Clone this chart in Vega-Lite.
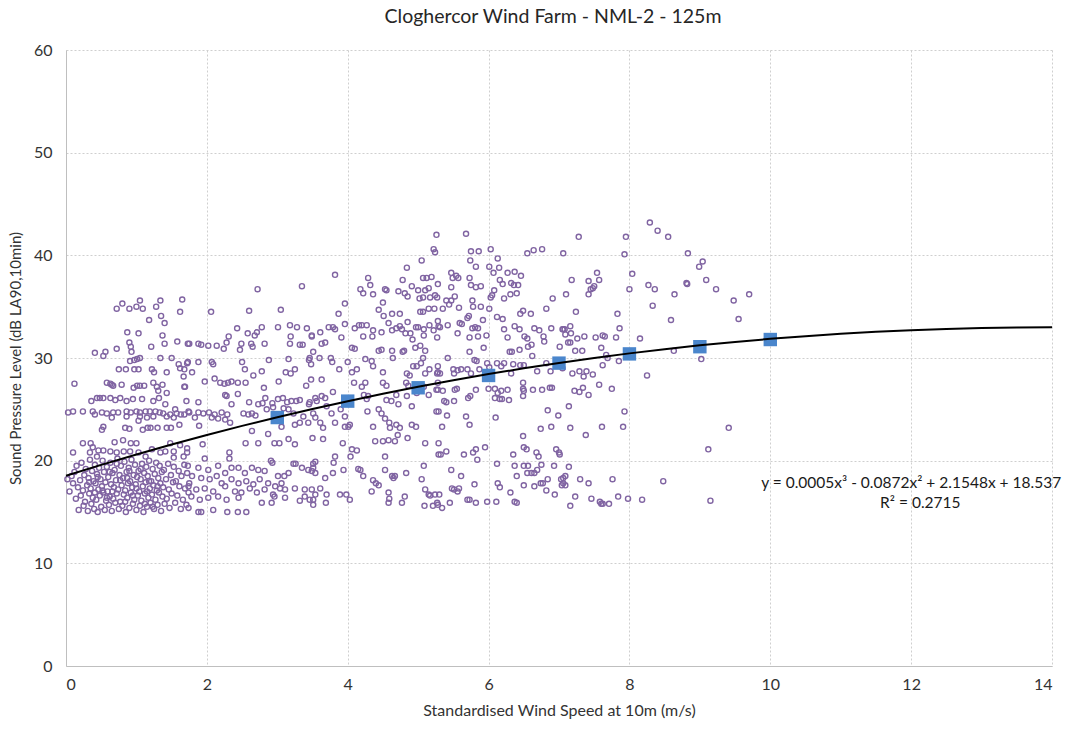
{
"$schema": "https://vega.github.io/schema/vega-lite/v6.json",
"width": 986, "height": 616,
"autosize": {"type": "none"},
"padding": {"left": 66, "top": 50, "right": 21, "bottom": 65},
"background": "white",
"config": {
 "font": "Lato",
 "view": {"stroke": null},
 "axis": {"gridDash": [2, 2], "gridColor": "#cfcfcf", "gridWidth": 1, "domainColor": "#bfbfbf", "domainWidth": 1, "ticks": false, "labelFont": "Lato", "labelFontSize": 16, "labelColor": "#333333", "titleFont": "Lato", "titleFontSize": 15, "titleFontWeight": "normal", "titleColor": "#333333"}
},
"title": {"text": "Cloghercor Wind Farm - NML-2 - 125m", "font": "Lato", "fontSize": 19.5, "fontWeight": "normal", "color": "#262626", "offset": 15, "dx": -6},
"datasets": {
 "pts": [
{"x":0.72,"y":34.8},{"x":0.80,"y":35.3},{"x":0.90,"y":34.8},{"x":1.00,"y":35.0},{"x":1.05,"y":35.6},{"x":1.09,"y":34.8},{"x":1.18,"y":33.7},{"x":1.28,"y":35.0},{"x":1.34,"y":35.6},{"x":1.35,"y":34.1},{"x":1.40,"y":33.4},{"x":1.65,"y":35.7},{"x":1.62,"y":34.5},{"x":0.87,"y":32.5},{"x":1.03,"y":32.4},{"x":1.37,"y":32.2},{"x":0.90,"y":31.5},{"x":0.92,"y":31.1},{"x":1.21,"y":31.1},{"x":1.40,"y":31.4},{"x":1.58,"y":31.6},{"x":1.73,"y":31.4},{"x":0.41,"y":30.5},{"x":0.53,"y":30.2},{"x":0.56,"y":30.6},{"x":0.72,"y":30.9},{"x":0.93,"y":30.6},{"x":0.91,"y":29.7},{"x":0.97,"y":29.8},{"x":1.01,"y":29.9},{"x":1.05,"y":30.0},{"x":0.75,"y":28.9},{"x":0.85,"y":28.9},{"x":0.97,"y":28.9},{"x":1.03,"y":28.9},{"x":1.22,"y":28.9},{"x":1.25,"y":28.6},{"x":1.34,"y":30.0},{"x":1.43,"y":28.6},{"x":1.50,"y":30.0},{"x":1.60,"y":29.4},{"x":1.62,"y":29.0},{"x":1.68,"y":28.9},{"x":1.72,"y":29.5},{"x":1.67,"y":28.2},{"x":0.12,"y":27.5},{"x":0.58,"y":27.6},{"x":0.63,"y":27.5},{"x":0.65,"y":27.4},{"x":0.67,"y":27.3},{"x":0.79,"y":27.4},{"x":0.96,"y":27.1},{"x":1.01,"y":27.3},{"x":1.05,"y":27.3},{"x":1.11,"y":27.3},{"x":1.24,"y":27.6},{"x":1.29,"y":27.2},{"x":1.31,"y":26.8},{"x":1.37,"y":27.4},{"x":1.43,"y":26.6},{"x":1.68,"y":27.2},{"x":1.71,"y":25.8},{"x":0.36,"y":25.8},{"x":0.44,"y":26.1},{"x":0.48,"y":26.1},{"x":0.53,"y":26.1},{"x":0.63,"y":26.1},{"x":0.70,"y":25.9},{"x":0.77,"y":26.1},{"x":0.86,"y":25.8},{"x":0.95,"y":26.0},{"x":1.08,"y":26.0},{"x":1.24,"y":25.8},{"x":1.32,"y":26.1},{"x":1.41,"y":25.5},{"x":1.55,"y":25.0},{"x":1.68,"y":24.5},{"x":1.74,"y":24.8},
{"x":0.03,"y":24.7},{"x":0.10,"y":24.8},{"x":0.24,"y":24.8},{"x":0.38,"y":24.8},{"x":0.41,"y":24.5},{"x":0.51,"y":24.7},{"x":0.58,"y":24.6},{"x":0.67,"y":24.7},{"x":0.74,"y":24.7},{"x":0.86,"y":24.8},{"x":0.92,"y":24.7},{"x":1.00,"y":24.8},{"x":1.05,"y":24.7},{"x":1.13,"y":24.8},{"x":1.19,"y":24.8},{"x":1.27,"y":24.8},{"x":1.33,"y":24.7},{"x":1.38,"y":24.6},{"x":1.48,"y":24.5},{"x":1.57,"y":24.6},{"x":1.63,"y":24.5},{"x":0.65,"y":24.2},{"x":0.86,"y":24.3},{"x":1.05,"y":24.3},{"x":1.15,"y":24.2},{"x":1.24,"y":24.3},{"x":1.43,"y":24.3},{"x":1.53,"y":24.2},{"x":1.03,"y":23.9},{"x":0.53,"y":23.3},{"x":0.51,"y":23.0},{"x":0.84,"y":23.2},{"x":0.90,"y":23.1},{"x":1.09,"y":23.0},{"x":1.16,"y":23.2},{"x":1.20,"y":23.2},{"x":1.30,"y":23.2},{"x":1.43,"y":23.2},{"x":1.49,"y":23.2},{"x":1.61,"y":23.5},
{"x":0.10,"y":20.8},{"x":0.24,"y":21.7},{"x":0.35,"y":21.7},{"x":0.38,"y":21.3},{"x":0.69,"y":21.8},{"x":0.81,"y":22.0},{"x":0.92,"y":21.7},{"x":1.00,"y":21.7},{"x":0.46,"y":21.0},{"x":0.53,"y":21.0},{"x":0.63,"y":20.9},{"x":0.72,"y":20.8},{"x":0.82,"y":20.9},{"x":0.91,"y":20.9},{"x":1.03,"y":20.8},{"x":1.13,"y":20.4},{"x":1.22,"y":21.1},{"x":1.34,"y":20.8},{"x":1.41,"y":20.9},{"x":1.48,"y":21.7},{"x":1.53,"y":20.9},{"x":1.62,"y":21.5},{"x":1.72,"y":21.2},{"x":1.67,"y":20.4},{"x":1.53,"y":20.3},{"x":0.44,"y":20.4},{"x":0.34,"y":20.8},
{"x":0.02,"y":18.2},{"x":0.05,"y":17.0},{"x":0.08,"y":18.5},{"x":0.1,"y":17.8},{"x":0.12,"y":18.9},{"x":0.14,"y":16.3},{"x":0.15,"y":19.5},{"x":0.17,"y":17.4},{"x":0.18,"y":15.2},{"x":0.2,"y":18.1},{"x":0.21,"y":16.6},{"x":0.22,"y":19.8},{"x":0.24,"y":17.1},{"x":0.25,"y":15.6},{"x":0.26,"y":18.6},{"x":0.27,"y":16.0},{"x":0.28,"y":19.2},{"x":0.3,"y":17.6},{"x":0.31,"y":15.1},{"x":0.32,"y":18.3},{"x":0.33,"y":16.8},{"x":0.34,"y":20.1},{"x":0.35,"y":17.3},{"x":0.36,"y":15.8},{"x":0.37,"y":19.0},{"x":0.38,"y":16.4},{"x":0.39,"y":18.0},{"x":0.4,"y":15.3},{"x":0.41,"y":19.6},{"x":0.42,"y":17.8},{"x":0.43,"y":16.2},{"x":0.44,"y":18.7},{"x":0.45,"y":15.0},{"x":0.46,"y":17.2},{"x":0.47,"y":19.3},{"x":0.48,"y":16.6},{"x":0.49,"y":18.2},{"x":0.5,"y":15.5},{"x":0.51,"y":17.5},{"x":0.52,"y":20.0},{"x":0.53,"y":16.9},{"x":0.54,"y":18.9},{"x":0.55,"y":15.2},{"x":0.56,"y":17.9},{"x":0.57,"y":16.1},{"x":0.58,"y":19.4},{"x":0.59,"y":17.0},{"x":0.6,"y":18.4},{"x":0.61,"y":15.7},{"x":0.62,"y":16.5},{"x":0.63,"y":19.8},{"x":0.64,"y":17.7},{"x":0.65,"y":15.1},{"x":0.66,"y":18.8},{"x":0.67,"y":16.3},{"x":0.68,"y":17.4},{"x":0.69,"y":19.1},{"x":0.7,"y":15.9},{"x":0.71,"y":18.1},{"x":0.72,"y":16.8},{"x":0.73,"y":20.2},{"x":0.74,"y":17.2},{"x":0.75,"y":15.3},{"x":0.76,"y":18.6},{"x":0.77,"y":16.0},{"x":0.78,"y":19.5},{"x":0.79,"y":17.6},{"x":0.8,"y":15.6},{"x":0.81,"y":18.3},{"x":0.82,"y":16.7},{"x":0.83,"y":19.9},{"x":0.84,"y":17.1},{"x":0.85,"y":15.0},{"x":0.86,"y":18.9},{"x":0.87,"y":16.4},{"x":0.88,"y":17.8},{"x":0.89,"y":19.3},{"x":0.9,"y":15.4},{"x":0.91,"y":18.0},{"x":0.92,"y":16.9},{"x":0.93,"y":20.1},{"x":0.94,"y":17.4},{"x":0.95,"y":15.8},{"x":0.96,"y":18.6},{"x":0.97,"y":16.2},{"x":0.98,"y":19.6},{"x":0.99,"y":17.7},{"x":1.0,"y":15.2},{"x":1.01,"y":18.4},{"x":1.02,"y":16.6},{"x":1.03,"y":19.0},{"x":1.04,"y":17.0},{"x":1.05,"y":15.6},{"x":1.06,"y":18.2},{"x":1.07,"y":16.1},{"x":1.08,"y":19.7},{"x":1.09,"y":17.5},{"x":1.1,"y":15.0},{"x":1.11,"y":18.8},{"x":1.12,"y":16.8},{"x":1.13,"y":17.9},{"x":1.14,"y":19.4},{"x":1.15,"y":15.5},{"x":1.16,"y":18.5},{"x":1.17,"y":16.4},{"x":1.18,"y":20.0},{"x":1.19,"y":17.3},{"x":1.2,"y":15.9},{"x":1.21,"y":18.0},{"x":1.22,"y":16.7},{"x":1.23,"y":19.2},{"x":1.24,"y":17.6},{"x":1.25,"y":15.3},{"x":1.26,"y":18.7},{"x":1.27,"y":16.2},{"x":1.28,"y":19.8},{"x":1.29,"y":17.1},{"x":1.3,"y":15.7},{"x":1.31,"y":18.3},{"x":1.32,"y":16.9},{"x":1.33,"y":19.5},{"x":1.34,"y":17.8},{"x":1.35,"y":15.1},{"x":1.36,"y":18.9},{"x":1.37,"y":16.5},{"x":1.38,"y":17.4},{"x":1.39,"y":19.1},{"x":1.4,"y":15.8},{"x":1.42,"y":18.2},{"x":1.43,"y":16.3},{"x":1.45,"y":19.7},{"x":1.46,"y":17.2},{"x":1.47,"y":15.4},{"x":1.49,"y":18.6},{"x":1.5,"y":16.8},{"x":1.52,"y":17.9},{"x":1.53,"y":19.4},{"x":1.55,"y":15.9},{"x":1.56,"y":18.0},{"x":1.58,"y":16.6},{"x":1.6,"y":19.0},{"x":1.61,"y":17.5},{"x":1.63,"y":15.3},{"x":1.64,"y":18.5},{"x":1.66,"y":16.2},{"x":1.68,"y":19.6},{"x":1.69,"y":17.3},{"x":1.71,"y":15.7},{"x":1.72,"y":18.8},{"x":1.74,"y":16.9},{"x":1.75,"y":17.8},
{"x":0.33,"y":17.9},{"x":0.45,"y":18.4},{"x":0.52,"y":17.1},{"x":0.58,"y":16.4},{"x":0.66,"y":17.0},{"x":0.72,"y":19.7},{"x":0.77,"y":18.1},{"x":0.84,"y":16.0},{"x":0.9,"y":19.0},{"x":0.95,"y":16.6},{"x":1.0,"y":17.3},{"x":1.06,"y":19.2},{"x":1.12,"y":15.8},{"x":1.18,"y":18.0},{"x":1.23,"y":15.5},{"x":1.3,"y":17.5},{"x":0.41,"y":16.9},{"x":0.62,"y":18.9},{"x":0.87,"y":18.3},{"x":1.15,"y":17.0},
{"x":2.72,"y":36.7},{"x":3.35,"y":37.0},{"x":2.06,"y":34.5},{"x":2.60,"y":34.6},{"x":3.05,"y":34.7},{"x":2.43,"y":32.9},{"x":2.58,"y":32.4},{"x":2.68,"y":32.2},{"x":2.71,"y":32.5},{"x":2.78,"y":33.0},{"x":3.01,"y":33.0},{"x":3.18,"y":33.2},{"x":3.28,"y":33.0},{"x":3.42,"y":32.9},{"x":3.19,"y":32.1},{"x":2.31,"y":32.1},{"x":2.28,"y":31.5},{"x":1.75,"y":31.4},{"x":1.88,"y":31.4},{"x":1.92,"y":31.3},{"x":2.02,"y":31.2},{"x":2.14,"y":31.2},{"x":2.24,"y":30.9},{"x":2.49,"y":31.4},{"x":2.47,"y":30.8},{"x":2.63,"y":31.4},{"x":2.65,"y":31.1},{"x":2.82,"y":31.4},{"x":3.18,"y":31.4},{"x":3.32,"y":31.3},{"x":3.36,"y":31.3},{"x":3.51,"y":30.6},{"x":3.49,"y":32.2},{"x":1.73,"y":29.6},{"x":1.88,"y":29.6},{"x":2.07,"y":29.6},{"x":2.09,"y":29.4},{"x":2.50,"y":29.6},{"x":2.54,"y":28.9},{"x":2.66,"y":28.3},{"x":2.78,"y":28.7},{"x":2.88,"y":29.8},{"x":3.12,"y":28.6},{"x":3.16,"y":29.9},{"x":3.19,"y":28.5},{"x":3.25,"y":28.9},{"x":3.45,"y":29.8},{"x":3.48,"y":29.4},{"x":1.79,"y":28.6},{"x":1.97,"y":27.7},{"x":2.11,"y":28.0},{"x":2.19,"y":27.6},{"x":2.25,"y":27.5},{"x":2.30,"y":27.6},{"x":2.35,"y":27.7},{"x":2.44,"y":27.6},{"x":2.55,"y":27.6},{"x":2.81,"y":27.1},{"x":3.02,"y":27.7},{"x":3.41,"y":27.3},{"x":3.48,"y":27.9},{"x":1.69,"y":27.2},{"x":2.26,"y":26.4},{"x":2.44,"y":26.5},{"x":2.28,"y":26.3},{"x":1.88,"y":25.7},{"x":2.35,"y":25.5},{"x":2.60,"y":25.7},{"x":2.73,"y":25.5},{"x":2.79,"y":25.6},{"x":2.83,"y":26.1},{"x":2.93,"y":25.6},{"x":3.01,"y":26.0},{"x":3.08,"y":26.1},{"x":3.14,"y":25.7},{"x":3.20,"y":25.8},{"x":3.27,"y":25.8},{"x":3.32,"y":25.9},{"x":3.45,"y":25.5},{"x":1.75,"y":24.7},{"x":1.88,"y":24.7},{"x":1.95,"y":24.6},{"x":2.03,"y":24.7},{"x":2.11,"y":24.5},{"x":2.21,"y":24.7},{"x":2.29,"y":24.5},{"x":1.83,"y":24.2},{"x":1.89,"y":23.4},{"x":2.07,"y":24.2},{"x":2.16,"y":24.1},{"x":2.26,"y":24.0},{"x":2.33,"y":23.7},{"x":2.52,"y":24.6},{"x":2.59,"y":24.5},{"x":2.64,"y":24.6},{"x":2.69,"y":24.4},{"x":2.85,"y":25.0},{"x":2.94,"y":25.2},{"x":3.09,"y":25.1},{"x":3.16,"y":25.0},{"x":3.23,"y":24.6},{"x":3.37,"y":24.3},{"x":3.25,"y":23.5},{"x":3.32,"y":23.7},{"x":3.44,"y":23.7},{"x":3.06,"y":23.3},{"x":2.64,"y":22.9},{"x":2.55,"y":21.7},{"x":2.73,"y":21.7},{"x":2.87,"y":22.6},{"x":2.96,"y":21.7},{"x":3.03,"y":21.7},{"x":3.16,"y":22.1},{"x":3.25,"y":21.6},{"x":3.50,"y":22.2},{"x":1.94,"y":21.6},{"x":1.72,"y":20.8},{"x":2.32,"y":20.8},{"x":2.32,"y":20.2},{"x":2.91,"y":20.0},{"x":3.23,"y":19.7},{"x":3.26,"y":19.7},{"x":1.97,"y":20.2},
{"x":1.73,"y":19.5},{"x":1.88,"y":19.3},{"x":2.02,"y":19.1},{"x":2.16,"y":19.5},{"x":2.26,"y":18.8},{"x":2.35,"y":19.3},{"x":2.45,"y":19.3},{"x":2.54,"y":18.8},{"x":2.64,"y":19.3},{"x":2.73,"y":19.1},{"x":2.82,"y":19.0},{"x":2.93,"y":19.8},{"x":3.01,"y":18.5},{"x":3.10,"y":18.5},{"x":3.16,"y":18.8},{"x":3.35,"y":19.3},{"x":3.44,"y":19.1},{"x":3.51,"y":19.3},{"x":1.79,"y":18.5},{"x":1.92,"y":18.3},{"x":2.04,"y":18.2},{"x":2.14,"y":18.5},{"x":2.21,"y":17.8},{"x":2.35,"y":18.2},{"x":2.45,"y":17.8},{"x":2.56,"y":18.0},{"x":2.66,"y":17.7},{"x":2.75,"y":18.2},{"x":2.87,"y":17.8},{"x":2.97,"y":17.5},{"x":3.06,"y":17.8},{"x":3.11,"y":17.2},{"x":3.25,"y":17.3},{"x":3.39,"y":17.2},{"x":3.49,"y":17.2},{"x":1.74,"y":17.5},{"x":1.85,"y":17.2},{"x":1.97,"y":17.3},{"x":2.09,"y":17.0},{"x":2.26,"y":17.5},{"x":2.40,"y":17.0},{"x":2.49,"y":16.9},{"x":2.61,"y":17.3},{"x":2.71,"y":16.9},{"x":2.82,"y":17.2},{"x":2.94,"y":16.7},{"x":3.04,"y":17.3},{"x":3.11,"y":16.4},{"x":1.78,"y":16.5},{"x":1.90,"y":16.2},{"x":2.02,"y":16.4},{"x":2.16,"y":16.5},{"x":2.28,"y":16.2},{"x":2.45,"y":16.4},{"x":2.78,"y":15.9},{"x":2.92,"y":15.9},{"x":2.96,"y":16.5},{"x":3.32,"y":16.1},{"x":1.74,"y":15.4},{"x":1.88,"y":15.0},{"x":1.92,"y":15.0},{"x":2.09,"y":15.2},{"x":2.29,"y":15.0},{"x":2.44,"y":15.0},{"x":2.56,"y":15.0},{"x":3.39,"y":16.5},{"x":3.51,"y":16.2},
{"x":5.26,"y":42.0},{"x":5.22,"y":40.6},{"x":5.24,"y":40.3},{"x":3.82,"y":38.1},{"x":5.05,"y":39.5},{"x":4.84,"y":38.8},{"x":4.29,"y":37.8},{"x":4.32,"y":37.1},{"x":4.18,"y":36.7},{"x":4.22,"y":36.3},{"x":4.36,"y":36.2},{"x":4.53,"y":36.7},{"x":4.55,"y":36.6},{"x":4.50,"y":35.4},{"x":4.44,"y":34.7},{"x":4.51,"y":34.1},{"x":4.63,"y":34.3},{"x":4.74,"y":34.3},{"x":4.58,"y":33.4},{"x":4.78,"y":37.6},{"x":4.72,"y":36.5},{"x":4.81,"y":36.3},{"x":4.85,"y":36.0},{"x":4.91,"y":37.0},{"x":5.00,"y":36.6},{"x":5.02,"y":35.8},{"x":5.07,"y":35.9},{"x":5.10,"y":36.6},{"x":5.15,"y":36.8},{"x":5.07,"y":37.8},{"x":5.12,"y":37.8},{"x":5.19,"y":37.9},{"x":5.17,"y":35.9},{"x":5.24,"y":36.1},{"x":5.28,"y":37.2},{"x":5.03,"y":34.5},{"x":5.07,"y":34.5},{"x":5.15,"y":34.8},{"x":5.23,"y":34.8},{"x":3.96,"y":35.3},{"x":3.87,"y":34.3},{"x":3.96,"y":33.3},{"x":3.63,"y":31.4},{"x":3.68,"y":31.5},{"x":3.79,"y":33.0},{"x":3.82,"y":32.8},{"x":3.73,"y":33.0},{"x":3.91,"y":32.0},{"x":3.49,"y":32.1},{"x":3.61,"y":32.5},{"x":4.10,"y":32.9},{"x":4.16,"y":33.2},{"x":4.20,"y":33.2},{"x":4.27,"y":33.2},{"x":4.22,"y":32.1},{"x":4.36,"y":32.7},{"x":4.35,"y":32.1},{"x":4.48,"y":32.5},{"x":4.63,"y":32.7},{"x":4.69,"y":32.9},{"x":4.74,"y":33.1},{"x":4.77,"y":32.8},{"x":4.85,"y":33.5},{"x":4.82,"y":32.4},{"x":4.89,"y":32.4},{"x":4.97,"y":33.0},{"x":5.00,"y":33.0},{"x":5.08,"y":32.8},{"x":5.16,"y":33.2},{"x":5.22,"y":32.7},{"x":5.29,"y":33.1},{"x":5.27,"y":32.0},{"x":5.08,"y":32.2},{"x":4.92,"y":31.8},{"x":4.06,"y":31.0},{"x":4.10,"y":30.9},{"x":4.44,"y":30.7},{"x":4.48,"y":30.8},{"x":4.63,"y":30.7},{"x":4.78,"y":30.6},{"x":4.80,"y":30.7},{"x":4.96,"y":31.0},{"x":5.03,"y":31.2},{"x":5.10,"y":30.7},{"x":3.46,"y":30.0},{"x":3.60,"y":30.0},{"x":3.76,"y":30.0},{"x":3.78,"y":29.6},{"x":3.88,"y":28.9},{"x":4.00,"y":29.6},{"x":4.06,"y":28.6},{"x":4.13,"y":28.9},{"x":4.25,"y":29.9},{"x":4.34,"y":29.7},{"x":4.36,"y":29.2},{"x":4.50,"y":28.6},{"x":4.64,"y":30.0},{"x":4.84,"y":28.5},{"x":4.88,"y":28.3},{"x":4.93,"y":29.2},{"x":4.98,"y":29.2},{"x":5.04,"y":29.5},{"x":5.07,"y":30.0},{"x":5.10,"y":28.5},{"x":5.16,"y":28.9},{"x":5.27,"y":28.5},{"x":5.28,"y":29.2},{"x":3.63,"y":27.9},{"x":4.09,"y":27.6},{"x":4.20,"y":27.2},{"x":4.25,"y":27.6},{"x":4.50,"y":27.6},{"x":4.55,"y":27.3},{"x":4.69,"y":26.4},{"x":4.83,"y":27.6},{"x":4.86,"y":27.3},{"x":4.98,"y":26.6},{"x":5.08,"y":27.2},{"x":5.15,"y":26.4},{"x":5.28,"y":26.9},{"x":3.46,"y":25.7},{"x":3.54,"y":26.1},{"x":3.56,"y":25.8},{"x":3.63,"y":26.3},{"x":3.68,"y":26.1},{"x":3.79,"y":26.7},{"x":3.70,"y":25.3},{"x":3.51,"y":24.6},{"x":3.54,"y":24.2},{"x":3.61,"y":23.7},{"x":3.65,"y":23.2},{"x":3.77,"y":24.6},{"x":3.82,"y":23.7},{"x":3.90,"y":25.0},{"x":3.96,"y":24.3},{"x":4.03,"y":23.5},{"x":4.01,"y":23.3},{"x":3.96,"y":23.3},{"x":4.23,"y":26.4},{"x":4.29,"y":26.3},{"x":4.27,"y":26.0},{"x":4.55,"y":25.9},{"x":4.62,"y":25.8},{"x":4.44,"y":25.0},{"x":4.48,"y":24.6},{"x":4.59,"y":23.7},{"x":4.60,"y":23.2},{"x":4.69,"y":23.5},{"x":4.74,"y":23.2},{"x":4.72,"y":25.5},{"x":4.84,"y":26.3},{"x":4.91,"y":25.3},{"x":4.91,"y":23.5},{"x":4.97,"y":23.3},{"x":5.29,"y":24.8},{"x":4.28,"y":24.8},{"x":4.36,"y":23.3},{"x":4.53,"y":24.1},{"x":3.65,"y":22.1},{"x":3.93,"y":21.7},{"x":4.06,"y":21.1},{"x":4.13,"y":21.0},{"x":4.39,"y":21.9},{"x":4.50,"y":21.9},{"x":4.58,"y":22.0},{"x":4.67,"y":21.9},{"x":4.71,"y":22.5},{"x":4.85,"y":22.2},{"x":5.10,"y":21.7},{"x":5.29,"y":20.6},{"x":3.54,"y":19.9},{"x":3.51,"y":19.7},{"x":3.49,"y":19.0},{"x":3.82,"y":20.4},{"x":3.80,"y":19.8},{"x":3.79,"y":18.8},{"x":3.94,"y":19.1},{"x":4.15,"y":19.2},{"x":4.18,"y":19.1},{"x":4.04,"y":20.4},{"x":4.22,"y":18.5},{"x":4.36,"y":18.1},{"x":4.40,"y":17.8},{"x":4.44,"y":17.6},{"x":4.53,"y":20.4},{"x":4.53,"y":19.1},{"x":4.63,"y":18.5},{"x":4.65,"y":18.3},{"x":4.67,"y":18.5},{"x":4.83,"y":18.8},{"x":5.08,"y":19.5},{"x":5.05,"y":18.2},{"x":3.54,"y":18.8},{"x":3.61,"y":17.3},{"x":3.70,"y":16.7},{"x":3.69,"y":15.9},{"x":3.68,"y":18.3},{"x":3.89,"y":16.7},{"x":3.98,"y":16.7},{"x":4.03,"y":16.2},{"x":4.34,"y":17.0},{"x":4.58,"y":16.9},{"x":4.59,"y":16.3},{"x":4.58,"y":15.9},{"x":4.77,"y":15.9},{"x":4.81,"y":16.5},{"x":5.10,"y":17.2},{"x":5.15,"y":16.7},{"x":5.17,"y":16.6},{"x":5.09,"y":15.6},{"x":5.24,"y":16.7},{"x":5.21,"y":15.6},{"x":5.28,"y":15.7},{"x":3.54,"y":16.7},{"x":3.46,"y":16.2},{"x":3.51,"y":15.7},
{"x":5.68,"y":42.1},{"x":5.75,"y":40.4},{"x":5.86,"y":40.4},{"x":6.03,"y":40.6},{"x":6.55,"y":40.2},{"x":6.64,"y":40.5},{"x":6.76,"y":40.6},{"x":7.06,"y":40.2},{"x":5.74,"y":39.5},{"x":5.82,"y":38.9},{"x":6.01,"y":38.9},{"x":6.07,"y":38.3},{"x":6.13,"y":39.7},{"x":6.15,"y":38.8},{"x":6.27,"y":38.3},{"x":6.37,"y":38.4},{"x":6.46,"y":38.0},{"x":5.47,"y":38.3},{"x":5.49,"y":37.8},{"x":5.54,"y":38.0},{"x":5.57,"y":37.8},{"x":5.73,"y":37.8},{"x":6.16,"y":37.6},{"x":5.75,"y":37.1},{"x":5.82,"y":36.9},{"x":5.89,"y":37.0},{"x":5.47,"y":36.9},{"x":5.27,"y":35.9},{"x":5.52,"y":36.0},{"x":5.47,"y":35.6},{"x":5.40,"y":35.6},{"x":5.35,"y":34.8},{"x":5.44,"y":35.2},{"x":5.58,"y":34.9},{"x":5.77,"y":35.6},{"x":5.78,"y":35.0},{"x":5.89,"y":35.0},{"x":6.03,"y":35.9},{"x":6.05,"y":36.1},{"x":6.08,"y":36.6},{"x":6.20,"y":37.2},{"x":6.32,"y":37.3},{"x":6.36,"y":37.1},{"x":6.42,"y":37.1},{"x":6.22,"y":35.8},{"x":6.31,"y":36.2},{"x":6.40,"y":36.3},{"x":6.49,"y":34.6},{"x":6.45,"y":34.3},{"x":6.60,"y":34.3},{"x":6.82,"y":34.8},{"x":6.91,"y":35.8},{"x":6.01,"y":34.8},{"x":6.12,"y":34.0},{"x":6.20,"y":33.8},{"x":5.92,"y":33.7},{"x":5.85,"y":32.9},{"x":5.72,"y":34.1},{"x":5.70,"y":33.9},{"x":5.59,"y":33.4},{"x":5.62,"y":33.3},{"x":5.28,"y":33.6},{"x":5.31,"y":33.0},{"x":5.42,"y":33.2},{"x":5.77,"y":32.9},{"x":5.81,"y":33.0},{"x":5.56,"y":32.4},{"x":5.73,"y":32.0},{"x":5.85,"y":32.1},{"x":5.97,"y":32.2},{"x":6.22,"y":32.8},{"x":6.27,"y":32.0},{"x":6.37,"y":33.1},{"x":6.44,"y":32.8},{"x":6.51,"y":32.1},{"x":6.55,"y":31.9},{"x":6.65,"y":32.9},{"x":6.72,"y":32.7},{"x":6.78,"y":32.1},{"x":6.89,"y":32.9},{"x":7.06,"y":32.8},{"x":6.79,"y":31.6},{"x":6.61,"y":31.3},{"x":6.56,"y":31.1},{"x":6.62,"y":30.2},{"x":6.44,"y":30.8},{"x":6.30,"y":30.6},{"x":6.33,"y":30.6},{"x":7.01,"y":31.1},{"x":5.93,"y":31.0},{"x":5.73,"y":30.6},{"x":5.80,"y":29.8},{"x":5.83,"y":29.7},{"x":5.42,"y":30.0},{"x":5.28,"y":28.6},{"x":5.31,"y":28.5},{"x":5.50,"y":28.9},{"x":5.51,"y":28.5},{"x":5.56,"y":28.8},{"x":5.61,"y":28.9},{"x":5.70,"y":28.9},{"x":5.75,"y":28.5},{"x":5.87,"y":28.9},{"x":5.98,"y":29.5},{"x":6.01,"y":29.1},{"x":6.12,"y":29.5},{"x":6.18,"y":29.2},{"x":6.22,"y":29.5},{"x":6.32,"y":28.5},{"x":6.35,"y":29.4},{"x":6.45,"y":29.3},{"x":6.50,"y":29.3},{"x":6.69,"y":28.7},{"x":6.82,"y":29.5},{"x":6.88,"y":28.7},{"x":5.26,"y":26.9},{"x":5.35,"y":26.8},{"x":5.52,"y":26.9},{"x":5.55,"y":27.0},{"x":5.28,"y":27.6},{"x":5.82,"y":26.9},{"x":5.71,"y":26.1},{"x":5.74,"y":26.3},{"x":6.00,"y":27.0},{"x":6.09,"y":27.0},{"x":6.13,"y":26.6},{"x":6.18,"y":26.8},{"x":6.27,"y":26.9},{"x":6.09,"y":26.1},{"x":6.16,"y":26.0},{"x":6.19,"y":26.0},{"x":6.29,"y":25.9},{"x":6.49,"y":27.6},{"x":6.49,"y":27.0},{"x":6.50,"y":26.8},{"x":6.49,"y":26.3},{"x":6.63,"y":26.9},{"x":6.76,"y":26.9},{"x":6.87,"y":27.1},{"x":6.90,"y":27.1},{"x":5.37,"y":25.8},{"x":5.40,"y":25.7},{"x":5.51,"y":25.8},{"x":5.26,"y":24.8},{"x":5.41,"y":24.4},{"x":5.68,"y":24.3},{"x":6.10,"y":24.2},{"x":6.84,"y":24.9},{"x":6.99,"y":24.4},{"x":5.34,"y":23.3},{"x":5.73,"y":23.5},{"x":6.74,"y":23.1},{"x":6.89,"y":23.3},{"x":5.29,"y":21.7},{"x":5.32,"y":20.6},{"x":5.40,"y":20.9},{"x":5.65,"y":20.6},{"x":5.78,"y":20.8},{"x":5.82,"y":21.1},{"x":5.84,"y":20.1},{"x":5.95,"y":21.3},{"x":6.12,"y":19.7},{"x":6.35,"y":20.6},{"x":6.37,"y":19.5},{"x":6.40,"y":18.5},{"x":6.49,"y":22.4},{"x":6.50,"y":21.3},{"x":6.54,"y":21.1},{"x":6.50,"y":19.5},{"x":6.56,"y":19.5},{"x":6.61,"y":18.8},{"x":6.68,"y":20.8},{"x":6.69,"y":19.1},{"x":6.75,"y":19.6},{"x":6.71,"y":20.4},{"x":6.74,"y":17.8},{"x":6.77,"y":17.8},{"x":6.84,"y":18.2},{"x":6.93,"y":19.5},{"x":6.96,"y":21.1},{"x":7.01,"y":20.6},{"x":7.06,"y":18.3},{"x":7.06,"y":17.8},{"x":5.47,"y":19.1},{"x":5.61,"y":18.5},{"x":5.48,"y":17.3},{"x":5.51,"y":17.2},{"x":5.56,"y":17.0},{"x":5.58,"y":17.3},{"x":5.70,"y":16.2},{"x":5.73,"y":16.2},{"x":5.80,"y":17.7},{"x":5.30,"y":16.7},{"x":5.27,"y":15.9},{"x":5.45,"y":15.9},{"x":5.34,"y":15.4},{"x":5.82,"y":15.9},{"x":5.98,"y":16.0},{"x":6.11,"y":16.0},{"x":6.13,"y":17.8},{"x":6.16,"y":17.4},{"x":6.31,"y":16.9},{"x":6.37,"y":16.0},{"x":6.40,"y":15.9},{"x":6.50,"y":17.6},{"x":6.55,"y":18.8},{"x":6.65,"y":17.5},{"x":6.65,"y":18.8},{"x":6.82,"y":17.1},{"x":6.94,"y":16.7},
{"x":8.29,"y":43.2},{"x":8.40,"y":42.4},{"x":8.55,"y":41.8},{"x":7.28,"y":41.8},{"x":7.95,"y":41.8},{"x":7.93,"y":40.1},{"x":8.83,"y":40.2},{"x":7.54,"y":38.3},{"x":8.04,"y":38.2},{"x":7.18,"y":37.6},{"x":7.42,"y":37.5},{"x":7.57,"y":37.6},{"x":7.45,"y":36.7},{"x":7.48,"y":36.8},{"x":7.50,"y":37.0},{"x":7.42,"y":36.2},{"x":7.10,"y":36.2},{"x":8.00,"y":36.7},{"x":8.27,"y":37.1},{"x":8.36,"y":36.7},{"x":8.64,"y":36.2},{"x":8.33,"y":35.1},{"x":8.81,"y":37.3},{"x":7.24,"y":34.5},{"x":7.83,"y":34.3},{"x":8.59,"y":33.7},{"x":7.86,"y":32.9},{"x":7.05,"y":32.8},{"x":7.08,"y":32.8},{"x":7.16,"y":33.1},{"x":7.09,"y":32.3},{"x":7.17,"y":32.4},{"x":7.13,"y":31.5},{"x":7.16,"y":31.5},{"x":7.26,"y":31.9},{"x":7.36,"y":32.1},{"x":7.52,"y":32.0},{"x":7.62,"y":32.2},{"x":7.65,"y":32.1},{"x":7.81,"y":32.0},{"x":8.15,"y":31.9},{"x":7.60,"y":31.0},{"x":7.23,"y":30.7},{"x":7.33,"y":30.7},{"x":7.67,"y":30.3},{"x":7.69,"y":30.0},{"x":8.63,"y":30.7},{"x":7.85,"y":29.7},{"x":7.62,"y":29.3},{"x":7.19,"y":28.5},{"x":7.29,"y":28.7},{"x":7.35,"y":28.2},{"x":7.39,"y":28.7},{"x":7.48,"y":28.4},{"x":8.25,"y":28.3},{"x":7.57,"y":27.4},{"x":7.22,"y":26.8},{"x":7.29,"y":26.7},{"x":7.34,"y":27.1},{"x":7.42,"y":26.4},{"x":7.75,"y":27.0},{"x":7.05,"y":29.0},{"x":7.14,"y":25.3},{"x":7.93,"y":24.8},{"x":7.16,"y":23.2},{"x":7.61,"y":23.3},{"x":7.91,"y":23.3},{"x":7.38,"y":22.5},{"x":7.00,"y":20.8},{"x":7.14,"y":19.4},{"x":7.09,"y":18.5},{"x":7.03,"y":18.2},{"x":7.04,"y":17.6},{"x":7.09,"y":17.6},{"x":7.30,"y":18.2},{"x":7.42,"y":17.8},{"x":7.76,"y":18.2},{"x":8.48,"y":18.0},{"x":7.23,"y":16.5},{"x":7.16,"y":15.6},{"x":7.46,"y":16.3},{"x":7.58,"y":16.0},{"x":7.60,"y":15.8},{"x":7.62,"y":15.8},{"x":7.71,"y":15.8},{"x":7.84,"y":16.5},{"x":7.98,"y":16.3},{"x":8.18,"y":16.2},
{"x":9.04,"y":39.4},{"x":8.99,"y":38.9},{"x":9.09,"y":37.6},{"x":8.82,"y":37.2},{"x":9.23,"y":36.7},{"x":9.48,"y":35.6},{"x":9.70,"y":36.2},{"x":9.55,"y":33.8},{"x":9.02,"y":29.9},{"x":9.41,"y":23.2},{"x":9.12,"y":21.1},{"x":9.15,"y":16.1}
 ],
 "bins": [
{"x":3,"y":24.2},{"x":4,"y":25.8},{"x":5,"y":27.1},{"x":6,"y":28.3},{"x":7,"y":29.5},{"x":8,"y":30.4},{"x":9,"y":31.1},{"x":10,"y":31.8}
 ],
 "fit": [
{"x":0,"y":18.537},{"x":0.5,"y":19.593},{"x":1,"y":20.605},{"x":1.5,"y":21.575},{"x":2,"y":22.502},{"x":2.5,"y":23.387},{"x":3,"y":24.230},{"x":3.5,"y":25.032},{"x":4,"y":25.793},{"x":4.5,"y":26.513},{"x":5,"y":27.194},{"x":5.5,"y":27.834},{"x":6,"y":28.435},{"x":6.5,"y":28.996},{"x":7,"y":29.519},{"x":7.5,"y":30.004},{"x":8,"y":30.451},{"x":8.5,"y":30.860},{"x":9,"y":31.232},{"x":9.5,"y":31.567},{"x":10,"y":31.865},{"x":10.5,"y":32.128},{"x":11,"y":32.354},{"x":11.5,"y":32.546},{"x":12,"y":32.702},{"x":12.5,"y":32.824},{"x":13,"y":32.911},{"x":13.5,"y":32.965},{"x":14,"y":32.987}
 ],
 "notes": [
{"x":12.0,"y":17.8,"label":"y = 0.0005x³ - 0.0872x² + 2.1548x + 18.537"},
{"x":12.13,"y":15.85,"label":"R² = 0.2715"}
 ]
},
"encoding": {
 "x": {"field": "x", "type": "quantitative", "scale": {"domain": [0, 14], "nice": false, "zero": false},
   "axis": {"values": [0, 2, 4, 6, 8, 10, 12, 14], "title": "Standardised Wind Speed at 10m (m/s)", "titleFontSize": 16, "grid": true, "labelPadding": 10, "titlePadding": 10}},
 "y": {"field": "y", "type": "quantitative", "scale": {"domain": [0, 60], "nice": false, "zero": false},
   "axis": {"values": [0, 10, 20, 30, 40, 50, 60], "title": "Sound Pressure Level (dB LA90,10min)", "grid": true, "labelPadding": 14, "titlePadding": 10}}
},
"layer": [
 {"data": {"name": "pts"}, "mark": {"type": "point", "shape": "circle", "filled": false, "stroke": "#8064a2", "strokeWidth": 1.4, "size": 26, "opacity": 1}},
 {"data": {"name": "bins"}, "mark": {"type": "square", "filled": true, "color": "#4a86cc", "size": 180, "opacity": 1}},
 {"data": {"name": "fit"}, "mark": {"type": "line", "color": "#000000", "strokeWidth": 2, "interpolate": "monotone"}},
 {"data": {"name": "notes"}, "mark": {"type": "text", "font": "Lato", "fontSize": 15.5, "color": "#1a1a1a", "align": "center", "baseline": "middle"}, "encoding": {"text": {"field": "label", "type": "nominal"}}}
]
}
